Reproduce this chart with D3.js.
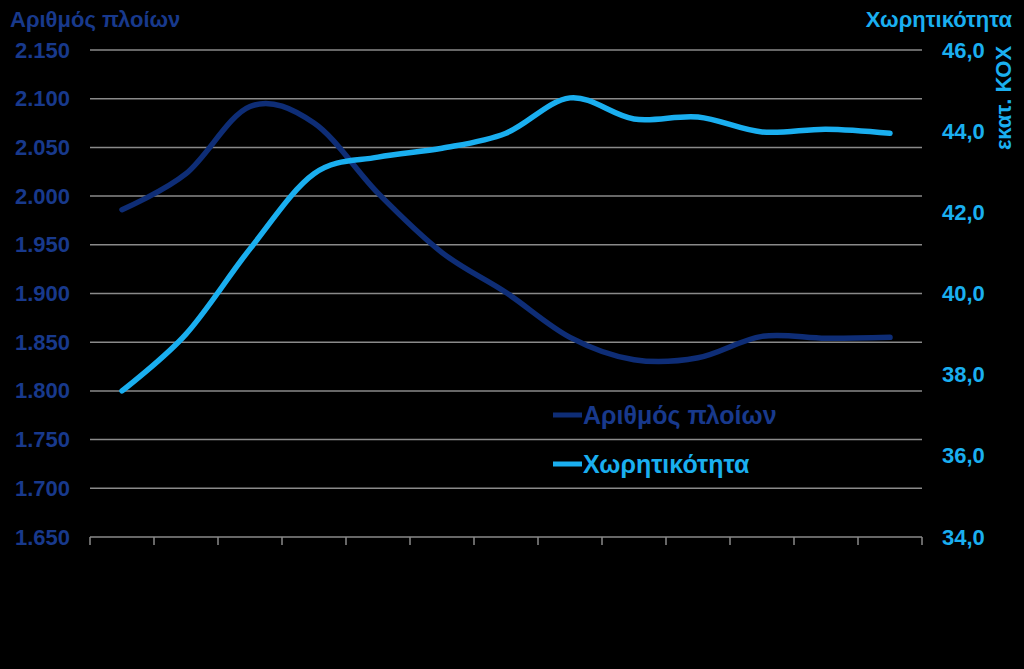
<!DOCTYPE html>
<html><head><meta charset="utf-8">
<script src="https://cdn.jsdelivr.net/npm/d3@7"></script>
<style>html,body{margin:0;padding:0;background:#000;}svg{display:block;}</style>
</head><body>
<script>
const categories = ["1","2","3","4","5","6","7","8","9","10","11","12","13"];
const shipCount = [1.986, 2.023, 2.092, 2.075, 2.003, 1.942, 1.901, 1.855, 1.832, 1.834, 1.856, 1.854, 1.855];
const capacity = [37.6, 39.0, 41.1, 42.95, 43.36, 43.58, 43.95, 44.82, 44.30, 44.35, 43.98, 44.05, 43.95];
const leftTicks = [1.65, 1.70, 1.75, 1.80, 1.85, 1.90, 1.95, 2.00, 2.05, 2.10, 2.15];
const rightTicks = [34, 36, 38, 40, 42, 44, 46];
const leftTitle = "Αριθμός πλοίων";
const rightTitle = "Χωρητικότητα";
const rightUnit = "εκατ. ΚΟΧ";
const seriesNames = ["Αριθμός πλοίων", "Χωρητικότητα"];

const W = 1024, H = 669;
const m = {left: 90, right: 102, top: 50, bottom: 132};
const navy = "#0e2d76", navyText = "#18398c", light = "#1aaff0";
const font = "'Liberation Sans', Arial, sans-serif";

const svg = d3.select("body").append("svg").attr("width", W).attr("height", H)
  .style("background", "#000");

const x = d3.scaleBand().domain(categories).range([m.left, W - m.right]);
const yL = d3.scaleLinear().domain([1.65, 2.15]).range([H - m.bottom, m.top]);
const yR = d3.scaleLinear().domain([34, 46]).range([H - m.bottom, m.top]);

// gridlines
svg.append("g").selectAll("line").data(leftTicks).join("line")
  .attr("x1", m.left).attr("x2", W - m.right)
  .attr("y1", d => yL(d)).attr("y2", d => yL(d))
  .attr("stroke", "#8a8a8a").attr("stroke-width", 1.5);

// x axis tick marks at category edges
const edges = categories.map(c => x(c)).concat([x.range()[1]]);
svg.append("g").attr("transform", `translate(0,${H - m.bottom})`)
  .selectAll("line").data(edges).join("line")
  .attr("x1", d => d).attr("x2", d => d).attr("y1", 0).attr("y2", 8)
  .attr("stroke", "#8a8a8a").attr("stroke-width", 1.5);

// left axis
const gl = svg.append("g").attr("transform", `translate(${m.left},0)`)
  .call(d3.axisLeft(yL).tickValues(leftTicks).tickSize(0).tickPadding(20)
    .tickFormat(d => d3.format(",.0f")(d * 1000).replace(",", ".")));
gl.select(".domain").remove();
gl.selectAll("text").attr("fill", navyText).attr("font-family", font)
  .attr("font-weight", "bold").attr("font-size", 22);

// right axis
const gr = svg.append("g").attr("transform", `translate(${W - m.right},0)`)
  .call(d3.axisRight(yR).tickValues(rightTicks).tickSize(0).tickPadding(20)
    .tickFormat(d => d3.format(".1f")(d).replace(".", ",")));
gr.select(".domain").remove();
gr.selectAll("text").attr("fill", light).attr("font-family", font)
  .attr("font-weight", "bold").attr("font-size", 22);

// titles
svg.append("text").attr("x", 10).attr("y", 27).text(leftTitle)
  .attr("fill", navyText).attr("font-family", font).attr("font-weight", "bold").attr("font-size", 22);
svg.append("text").attr("x", 1012).attr("y", 27).attr("text-anchor", "end").text(rightTitle)
  .attr("fill", light).attr("font-family", font).attr("font-weight", "bold").attr("font-size", 22);
svg.append("text").attr("transform", "translate(1011,98) rotate(-90)")
  .attr("text-anchor", "middle").text(rightUnit)
  .attr("fill", light).attr("font-family", font).attr("font-weight", "bold").attr("font-size", 22);

// lines
const cx = c => x(c) + x.bandwidth() / 2;
const lineL = d3.line().x((d, i) => cx(categories[i])).y(d => yL(d)).curve(d3.curveCatmullRom.alpha(0));
const lineR = d3.line().x((d, i) => cx(categories[i])).y(d => yR(d)).curve(d3.curveCatmullRom.alpha(0));
svg.append("path").attr("d", lineL(shipCount)).attr("fill", "none")
  .attr("stroke", navy).attr("stroke-width", 5.5).attr("stroke-linecap", "round");
svg.append("path").attr("d", lineR(capacity)).attr("fill", "none")
  .attr("stroke", light).attr("stroke-width", 5.5).attr("stroke-linecap", "round");

// legend
const lg = svg.append("g");
const legendColors = [navy, light], legendText = [navyText, light];
seriesNames.forEach((n, i) => {
  const yy = 415 + i * 49;
  lg.append("line").attr("x1", 553).attr("x2", 582).attr("y1", yy).attr("y2", yy)
    .attr("stroke", legendColors[i]).attr("stroke-width", 5);
  lg.append("text").attr("x", 583).attr("y", yy + 9).text(n)
    .attr("fill", legendText[i]).attr("font-family", font).attr("font-weight", "bold").attr("font-size", 25);
});
</script>
</body></html>
